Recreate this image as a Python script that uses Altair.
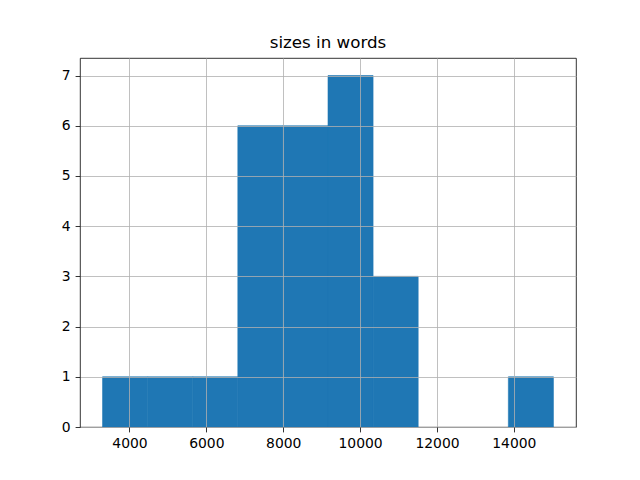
import altair as alt
import pandas as pd

bin_edges = [3300, 4473, 5646, 6819, 7992, 9165, 10338, 11511, 12684, 13857, 15030]
counts = [1, 1, 1, 6, 6, 7, 3, 0, 0, 1]
x_ticks = [4000, 6000, 8000, 10000, 12000, 14000]
y_ticks = [0, 1, 2, 3, 4, 5, 6, 7]

df = pd.DataFrame({
    "start": bin_edges[:-1],
    "end": bin_edges[1:],
    "count": counts,
})

axis_common = dict(
    grid=True,
    gridColor="#b0b0b0",
    gridWidth=0.8,
    domain=False,
    tickColor="black",
    tickSize=4.9,
    tickWidth=0.8,
    labelFont="DejaVu Sans",
    labelFontSize=13.9,
    labelColor="black",
    labelPadding=4.9,
    title=None,
    zindex=1,
)

chart = alt.Chart(df).transform_filter(
    alt.datum["count"] > 0
).mark_rect(color="#1f77b4", stroke="#1f77b4", strokeWidth=0.6).encode(
    x=alt.X("start:Q", scale=alt.Scale(domain=[2713, 15617], nice=False, zero=False),
            axis=alt.Axis(values=x_ticks, format="d", labelFlush=False, **axis_common)),
    x2="end:Q",
    y=alt.Y("count:Q", scale=alt.Scale(domain=[0, 7.35], nice=False),
            axis=alt.Axis(values=y_ticks, format="d", **axis_common)),
    y2=alt.datum(0),
).properties(
    width=496,
    height=369,
    title=alt.TitleParams("sizes in words", font="DejaVu Sans", fontSize=16.7,
                          fontWeight="normal", color="black", offset=6, anchor="middle"),
    autosize=alt.AutoSizeParams(type="none"),
    padding={"left": 72, "top": 50, "right": 56, "bottom": 45},
).configure_view(
    stroke="black",
    strokeWidth=0.8,
)

chart.save("out.html", embed_options={"renderer": "svg", "actions": False})
